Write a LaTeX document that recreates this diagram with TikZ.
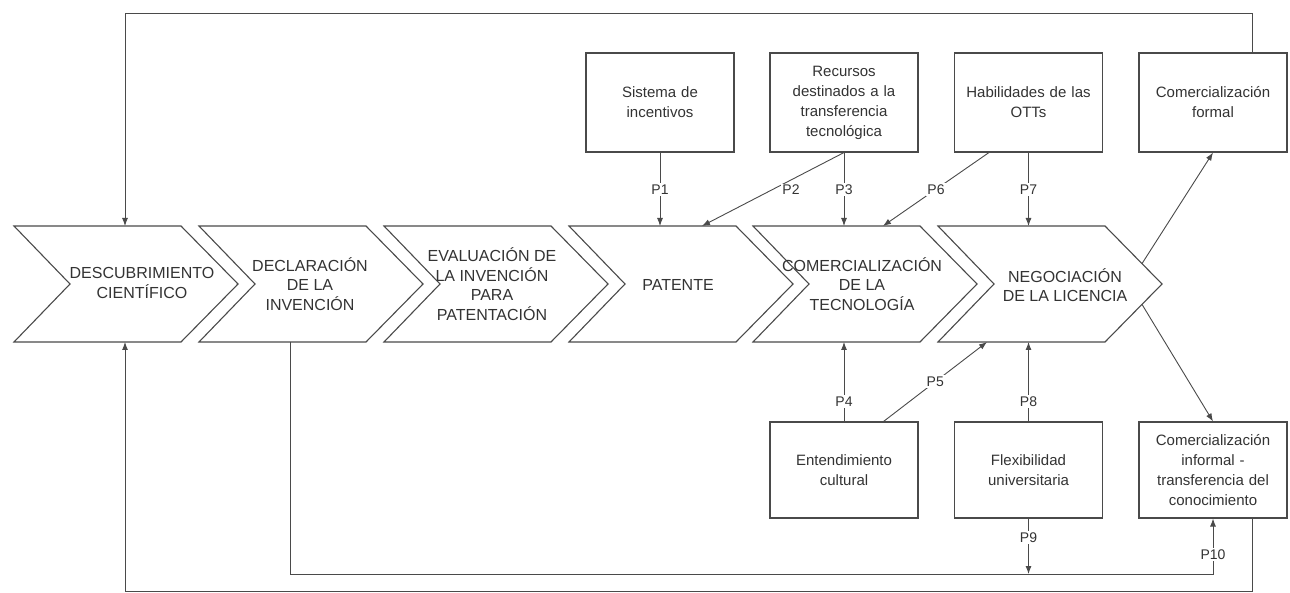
\documentclass[tikz,border=0pt]{standalone}
\usepackage{fontspec}
\setmainfont{Liberation Sans}
\usetikzlibrary{arrows.meta,calc}
\definecolor{ln}{HTML}{4A4A4A}
\definecolor{tx}{HTML}{333333}
\begin{document}
\begin{tikzpicture}[x=1pt,y=-1pt,
 chev/.style={draw=ln, line width=1.1pt, fill=white, line join=miter},
 chtext/.style={text=tx, align=center, font=\fontsize{16}{19.5}\selectfont, inner sep=0},
 box/.style={draw=ln, line width=1.1pt, fill=white, minimum width=148pt, text width=140pt, align=center, inner sep=0, text=tx, font=\fontsize{15}{20}\selectfont},
 topbox/.style={box, minimum height=99pt},
 botbox/.style={box, minimum height=96pt},
 conn/.style={draw=ln, line width=0.9pt},
 arr/.style={conn, -{Latex[length=8pt,width=6pt]}},
 lab/.style={fill=white, text=tx, inner sep=1.5pt, font=\fontsize{14}{16}\selectfont}]
\useasboundingbox (0,0) rectangle (1290,593);
\fill[white] (0,0) rectangle (1290,593);

% reference coordinates
\coordinate (chtop) at (0,226);
\coordinate (chbot) at (0,342);
\coordinate (fx) at (1252,0);
\coordinate (ty) at (0,13);
\coordinate (by) at (0,591);
\coordinate (b2y) at (0,574);
\coordinate (c1x) at (125,0);
\coordinate (c2x) at (290,0);
\coordinate (p2e) at (702,226);
\coordinate (p6e) at (883,226);
\coordinate (p5e) at (987,342);
\coordinate (c6u) at (1142,263.6);
\coordinate (c6l) at (1142,304.4);

% chevrons
\foreach \L in {14,199,384,569,753,938}{
  \draw[chev] (\L,226) -- ++(167,0) -- ++(57,58) -- ++(-57,58) -- ++(-167,0) -- ++(56,-58) -- cycle;
}
\node[chtext] (ch1) at (142,283) {DESCUBRIMIENTO\\CIENTÍFICO};
\node[chtext] (ch2) at (310,284) {DECLARACIÓN\\DE LA\\INVENCIÓN};
\node[chtext] (ch3) at (492,284) {EVALUACIÓN DE\\LA INVENCIÓN\\PARA\\PATENTACIÓN};
\node[chtext] (ch4) at (678,285) {PATENTE};
\node[chtext] (ch5) at (862,284) {COMERCIALIZACIÓN\\DE LA\\TECNOLOGÍA};
\node[chtext] (ch6) at (1065,285) {NEGOCIACIÓN\\DE LA LICENCIA};

% boxes
\node[topbox] (sis) at (660,102.5) {Sistema de\\incentivos};
\node[topbox] (rec) at (844,102.5) {Recursos\\destinados a la\\transferencia\\tecnológica};
\node[topbox] (hab) at (1028.5,102.5) {Habilidades de las\\OTTs};
\node[topbox] (formal) at (1213,102.5) {Comercialización\\formal};
\node[botbox] (ent) at (844,470) {Entendimiento\\cultural};
\node[botbox] (flex) at (1028.5,470) {Flexibilidad\\universitaria};
\node[botbox] (informal) at (1213,470) {Comercialización\\informal -\\transferencia del\\conocimiento};

% connectors from top boxes
\draw[arr] (sis.south) -- node[lab]{P1} (sis.south |- chtop);
\draw[arr] (rec.south) -- (p2e);
\node[lab] (lp2) at (791,190) {P2};
\draw[arr] (rec.south) -- node[lab]{P3} (rec.south |- chtop);
\draw[arr] ($(hab.south west)+(35,0)$) -- node[lab]{P6} (p6e);
\draw[arr] (hab.south) -- node[lab]{P7} (hab.south |- chtop);

% connectors from bottom boxes
\draw[arr] (ent.north) -- node[lab,pos=0.25]{P4} (ent.north |- chbot);
\draw[arr] ($(ent.north east)+(-35,0)$) -- node[lab]{P5} (p5e);
\draw[arr] (flex.north) -- node[lab,pos=0.25]{P8} (flex.north |- chbot);
\draw[arr] (flex.south) -- node[lab,pos=0.34]{P9} (flex.south |- b2y);

% outcomes
\draw[arr] (c6u) -- (formal.south);
\draw[arr] (c6l) -- (informal.north);

% feedback loops
\draw[arr] (formal.north -| fx) -- (fx |- ty) -- (c1x |- ty) -- (c1x |- chtop);
\draw[arr] (informal.south -| fx) -- (fx |- by) -- (c1x |- by) -- (c1x |- chbot);
\draw[arr] (c2x |- chbot) -- (c2x |- b2y) -- (informal.south |- b2y) -- node[lab,pos=0.35]{P10} (informal.south);
\end{tikzpicture}
\end{document}
